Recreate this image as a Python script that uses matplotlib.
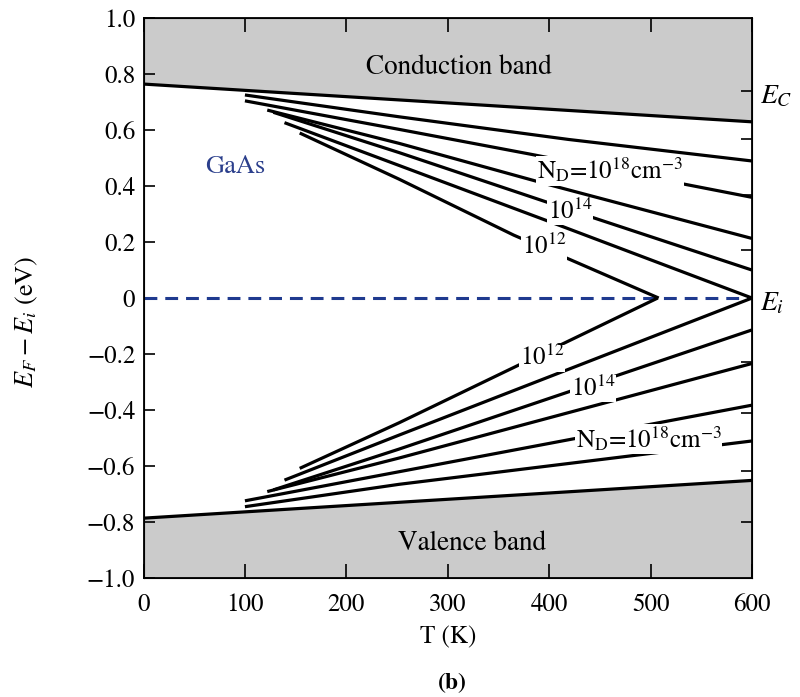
import matplotlib
matplotlib.use("Agg")
import matplotlib.pyplot as plt

# ---------- FONTS ----------
plt.rcParams['font.family'] = ['STIXGeneral', 'DejaVu Serif']
plt.rcParams['mathtext.fontset'] = 'stix'

# ---------- DATA ----------
# band edges, relative to Ei (eV)
T_band = [0, 200, 400, 600]
E_cond = [0.765, 0.720, 0.675, 0.630]
E_val = [-0.787, -0.742, -0.697, -0.652]

# Fermi level curves above Ei (n-type), top to bottom
T_n = [
    [100, 252, 419, 600],
    [100, 252, 382, 600],
    [122, 252, 401, 600],
    [128, 252, 442, 600],
    [139, 252, 410, 600],
    [154, 252, 365, 508],
]
E_n = [
    [0.726, 0.648, 0.567, 0.490],
    [0.705, 0.603, 0.514, 0.360],
    [0.672, 0.553, 0.404, 0.213],
    [0.664, 0.520, 0.289, 0.100],
    [0.627, 0.474, 0.260, 0.000],
    [0.590, 0.425, 0.225, 0.000],
]

# Fermi level curves below Ei, bottom to top
T_p = [
    [100, 252, 600],
    [100, 252, 600],
    [122, 252, 600],
    [128, 252, 600],
    [139, 252, 600],
    [154, 252, 507],
]
E_p = [
    [-0.746, -0.666, -0.511],
    [-0.725, -0.621, -0.383],
    [-0.692, -0.572, -0.234],
    [-0.686, -0.540, -0.114],
    [-0.651, -0.490, 0.000],
    [-0.609, -0.446, 0.000],
]

nd_label = r'N$_\mathrm{D}$=10$^{18}$cm$^{-3}$'
curve_labels = [nd_label, r'10$^{14}$', r'10$^{12}$',
                r'10$^{12}$', r'10$^{14}$', nd_label]
label_T = [460, 421, 395, 393, 443, 498]
label_E = [0.455, 0.308, 0.183, -0.216, -0.325, -0.505]

right_ticks = [0.74, 0.57, 0.37, 0.17, -0.23, -0.41, -0.62, -0.80]

# ---------- FIGURE ----------
fig = plt.figure(figsize=(8, 6.97), dpi=100)
ax = fig.add_axes([0.1794, 0.1711, 0.7606, 0.8026])

# shaded bands
ax.fill_between(T_band, E_cond, 1.0, color='#cbcbcb', lw=0)
ax.fill_between(T_band, -1.0, E_val, color='#cbcbcb', lw=0)
ax.plot(T_band, E_cond, color='black', lw=2.3)
ax.plot(T_band, E_val, color='black', lw=2.3)

# intrinsic level
ax.axhline(0, color='#1f3a8f', lw=2.2, linestyle=(0, (4.2, 2.6)), zorder=2)

# Fermi level curves
for t, e in zip(T_n, E_n):
    ax.plot(t, e, color='black', lw=2.3, solid_capstyle='butt', zorder=3)
for t, e in zip(T_p, E_p):
    ax.plot(t, e, color='black', lw=2.3, solid_capstyle='butt', zorder=3)

# labels on curves (white box cuts the lines)
for txt, tx, ty in zip(curve_labels, label_T, label_E):
    ax.text(tx, ty, txt, fontsize=18, ha='center', va='center', zorder=4,
            bbox=dict(facecolor='white', edgecolor='none', pad=0.5))

ax.text(311, 0.826, 'Conduction band', fontsize=19.5, ha='center', va='center')
ax.text(324, -0.876, 'Valence band', fontsize=19.5, ha='center', va='center')
ax.text(90, 0.468, 'GaAs', fontsize=19, ha='center', va='center', color='#2b3f8c')
ax.text(608, 0.72, '$E_C$', fontsize=20, ha='left', va='center', clip_on=False)
ax.text(608, -0.02, '$E_i$', fontsize=20, ha='left', va='center', clip_on=False)

# ---------- AXES ----------
ax.set_xlim(0, 600)
ax.set_ylim(-1.0, 1.0)
ax.set_xticks(range(0, 601, 100))
ax.set_yticks([1.0, 0.8, 0.6, 0.4, 0.2, 0, -0.2, -0.4, -0.6, -0.8, -1.0])
ax.set_yticklabels(['1.0', '0.8', '0.6', '0.4', '0.2', '0', '\u22120.2', '\u22120.4',
                    '\u22120.6', '\u22120.8', '\u22121.0'])
ax.tick_params(axis='x', direction='in', length=10, width=1.2, top=True,
               labelsize=18, pad=11)
ax.tick_params(axis='y', direction='in', length=8, width=1.2, labelsize=18, pad=6)
for s in ax.spines.values():
    s.set_linewidth(1.3)

# right side ticks (no labels)
ax2 = ax.twinx()
ax2.set_ylim(-1.0, 1.0)
ax2.set_yticks(right_ticks)
ax2.tick_params(axis='y', direction='in', length=8, width=1.2, labelright=False)

ax.set_xlabel('T (K)', fontsize=18, labelpad=6)
ax.set_ylabel('$E_F - E_i$ (eV)', fontsize=19)
ax.yaxis.set_label_coords(-0.17, 0.457)
fig.text(0.565, 0.012, '(b)', fontsize=17, fontweight='bold', ha='center')

plt.savefig('out.png', dpi=100)
